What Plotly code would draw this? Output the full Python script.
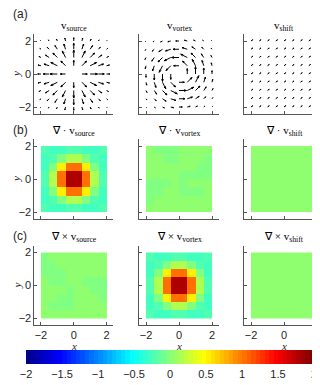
import plotly.graph_objects as go

# ---------------- data ----------------
GRID = [-2.0, -1.5, -1.0, -0.5, 0.0, 0.5, 1.0, 1.5, 2.0]          # quiver grid (x and y)
CELLS = [-1.75, -1.25, -0.75, -0.25, 0.25, 0.75, 1.25, 1.75]      # heatmap cell centres

# rows: y = -2 ... 2 ; columns: x = -2 ... 2
U_SOURCE = [
    [-0.04, -0.07, -0.08, -0.06, 0.00, 0.06, 0.08, 0.07, 0.04],
    [-0.09, -0.16, -0.20, -0.14, 0.00, 0.14, 0.20, 0.16, 0.09],
    [-0.16, -0.30, -0.37, -0.27, 0.00, 0.27, 0.37, 0.30, 0.16],
    [-0.24, -0.43, -0.54, -0.39, 0.00, 0.39, 0.54, 0.43, 0.24],
    [-0.27, -0.49, -0.61, -0.44, 0.00, 0.44, 0.61, 0.49, 0.27],
    [-0.24, -0.43, -0.54, -0.39, 0.00, 0.39, 0.54, 0.43, 0.24],
    [-0.16, -0.30, -0.37, -0.27, 0.00, 0.27, 0.37, 0.30, 0.16],
    [-0.09, -0.16, -0.20, -0.14, 0.00, 0.14, 0.20, 0.16, 0.09],
    [-0.04, -0.07, -0.08, -0.06, 0.00, 0.06, 0.08, 0.07, 0.04],
]
V_SOURCE = [
    [-0.04, -0.09, -0.16, -0.24, -0.27, -0.24, -0.16, -0.09, -0.04],
    [-0.07, -0.16, -0.30, -0.43, -0.49, -0.43, -0.30, -0.16, -0.07],
    [-0.08, -0.20, -0.37, -0.54, -0.61, -0.54, -0.37, -0.20, -0.08],
    [-0.06, -0.14, -0.27, -0.39, -0.44, -0.39, -0.27, -0.14, -0.06],
    [0.00, 0.00, 0.00, 0.00, 0.00, 0.00, 0.00, 0.00, 0.00],
    [0.06, 0.14, 0.27, 0.39, 0.44, 0.39, 0.27, 0.14, 0.06],
    [0.08, 0.20, 0.37, 0.54, 0.61, 0.54, 0.37, 0.20, 0.08],
    [0.07, 0.16, 0.30, 0.43, 0.49, 0.43, 0.30, 0.16, 0.07],
    [0.04, 0.09, 0.16, 0.24, 0.27, 0.24, 0.16, 0.09, 0.04],
]
U_VORTEX = [
    [0.04, 0.09, 0.16, 0.24, 0.27, 0.24, 0.16, 0.09, 0.04],
    [0.07, 0.16, 0.30, 0.43, 0.49, 0.43, 0.30, 0.16, 0.07],
    [0.08, 0.20, 0.37, 0.54, 0.61, 0.54, 0.37, 0.20, 0.08],
    [0.06, 0.14, 0.27, 0.39, 0.44, 0.39, 0.27, 0.14, 0.06],
    [0.00, 0.00, 0.00, 0.00, 0.00, 0.00, 0.00, 0.00, 0.00],
    [-0.06, -0.14, -0.27, -0.39, -0.44, -0.39, -0.27, -0.14, -0.06],
    [-0.08, -0.20, -0.37, -0.54, -0.61, -0.54, -0.37, -0.20, -0.08],
    [-0.07, -0.16, -0.30, -0.43, -0.49, -0.43, -0.30, -0.16, -0.07],
    [-0.04, -0.09, -0.16, -0.24, -0.27, -0.24, -0.16, -0.09, -0.04],
]
V_VORTEX = [
    [-0.04, -0.07, -0.08, -0.06, 0.00, 0.06, 0.08, 0.07, 0.04],
    [-0.09, -0.16, -0.20, -0.14, 0.00, 0.14, 0.20, 0.16, 0.09],
    [-0.16, -0.30, -0.37, -0.27, 0.00, 0.27, 0.37, 0.30, 0.16],
    [-0.24, -0.43, -0.54, -0.39, 0.00, 0.39, 0.54, 0.43, 0.24],
    [-0.27, -0.49, -0.61, -0.44, 0.00, 0.44, 0.61, 0.49, 0.27],
    [-0.24, -0.43, -0.54, -0.39, 0.00, 0.39, 0.54, 0.43, 0.24],
    [-0.16, -0.30, -0.37, -0.27, 0.00, 0.27, 0.37, 0.30, 0.16],
    [-0.09, -0.16, -0.20, -0.14, 0.00, 0.14, 0.20, 0.16, 0.09],
    [-0.04, -0.07, -0.08, -0.06, 0.00, 0.06, 0.08, 0.07, 0.04],
]
U_SHIFT = [[0.14] * 9 for _ in range(9)]
V_SHIFT = [[0.10] * 9 for _ in range(9)]

# rows: y = -1.75 ... 1.75 ; columns: x = -1.75 ... 1.75
DIV_SOURCE = [
    [-0.19, -0.26, -0.27, -0.24, -0.24, -0.27, -0.26, -0.19],
    [-0.26, -0.24, -0.04, 0.17, 0.17, -0.04, -0.24, -0.26],
    [-0.27, -0.04, 0.50, 1.01, 1.01, 0.50, -0.04, -0.27],
    [-0.24, 0.17, 1.01, 1.76, 1.76, 1.01, 0.17, -0.24],
    [-0.24, 0.17, 1.01, 1.76, 1.76, 1.01, 0.17, -0.24],
    [-0.27, -0.04, 0.50, 1.01, 1.01, 0.50, -0.04, -0.27],
    [-0.26, -0.24, -0.04, 0.17, 0.17, -0.04, -0.24, -0.26],
    [-0.19, -0.26, -0.27, -0.24, -0.24, -0.27, -0.26, -0.19],
]
CURL_VORTEX = [
    [-0.19, -0.26, -0.27, -0.24, -0.24, -0.27, -0.26, -0.19],
    [-0.26, -0.24, -0.04, 0.17, 0.17, -0.04, -0.24, -0.26],
    [-0.27, -0.04, 0.50, 1.01, 1.01, 0.50, -0.04, -0.27],
    [-0.24, 0.17, 1.01, 1.76, 1.76, 1.01, 0.17, -0.24],
    [-0.24, 0.17, 1.01, 1.76, 1.76, 1.01, 0.17, -0.24],
    [-0.27, -0.04, 0.50, 1.01, 1.01, 0.50, -0.04, -0.27],
    [-0.26, -0.24, -0.04, 0.17, 0.17, -0.04, -0.24, -0.26],
    [-0.19, -0.26, -0.27, -0.24, -0.24, -0.27, -0.26, -0.19],
]
# numerical-noise level values (top row of the picture is the last row here)
DIV_VORTEX = [
    [0.02, 0.02, 0.02, 0.02, 0.02, 0.02, 0.02, 0.02],
    [-0.02, 0.02, 0.02, 0.02, 0.02, 0.02, 0.02, 0.02],
    [-0.02, -0.02, 0.02, 0.02, -0.02, -0.02, -0.02, 0.02],
    [-0.02, -0.02, -0.02, 0.02, -0.02, 0.02, 0.02, 0.02],
    [0.02, 0.02, 0.02, 0.02, -0.02, -0.02, -0.02, -0.02],
    [0.02, 0.02, 0.02, 0.02, 0.02, 0.02, -0.02, -0.02],
    [0.02, 0.02, -0.02, -0.02, 0.02, 0.02, 0.02, -0.02],
    [0.02, -0.02, -0.02, -0.02, 0.02, 0.02, 0.02, 0.02],
]
CURL_SOURCE = [
    [0.02, 0.02, 0.02, 0.02, 0.02, 0.02, 0.02, 0.02],
    [0.02, -0.02, -0.02, -0.02, 0.02, 0.02, 0.02, 0.02],
    [0.02, 0.02, -0.02, -0.02, 0.02, 0.02, 0.02, -0.02],
    [0.02, 0.02, 0.02, -0.02, 0.02, 0.02, -0.02, -0.02],
    [0.02, -0.02, -0.02, 0.02, 0.02, -0.02, -0.02, -0.02],
    [-0.02, -0.02, -0.02, 0.02, 0.02, 0.02, 0.02, 0.02],
    [-0.02, -0.02, 0.02, 0.02, 0.02, 0.02, 0.02, 0.02],
    [-0.02, 0.02, 0.02, 0.02, 0.02, 0.02, 0.02, 0.02],
]
DIV_SHIFT = [[0.02] * 8 for _ in range(8)]
CURL_SHIFT = [[0.02] * 8 for _ in range(8)]

COL_NAMES = ["source", "vortex", "shift"]
ROW_PREFIX = ["", "\u2207 \u00b7 ", "\u2207 \u00d7 "]
PANEL_LABELS = ["(a)", "(b)", "(c)"]
CB_TICKS = [-1.9999, -1.5, -1, -0.5, 0, 0.5, 1, 1.5, 1.9999]
CB_TICKTEXT = ["\u22122", "\u22121.5", "\u22121", "\u22120.5", "0", "0.5", "1", "1.5", "2"]


# ---------------- styling helpers ----------------
def matlab_jet(m=64):
    n = m // 4
    u = [(i + 1) / n for i in range(n)] + [1.0] * (n - 1) + [(n - i) / n for i in range(n)]
    cols = [[0.0, 0.0, 0.0] for _ in range(m)]
    for i, val in enumerate(u):
        g = n // 2 + i
        r = g + n
        b = g - n
        if 0 <= r < m:
            cols[r][0] = val
        if 0 <= g < m:
            cols[g][1] = val
        if 0 <= b < m:
            cols[b][2] = val
    scale = []
    for k, c in enumerate(cols):
        s = "rgb(%d,%d,%d)" % tuple(round(255 * v) for v in c)
        scale.append([k / m, s])
        scale.append([(k + 1) / m, s])
    return scale


JET = matlab_jet()
W, H = 320, 385
COLS_PX = [(26.4, 105.1), (131.4, 210.6), (236.4, 315.6)]
ROWS_PX = [(26.4, 105.6), (131.4, 210.6), (237.9, 317.1)]
AX_COLOR = "#555555"
TICK_FONT = dict(family="Liberation Sans, Arial, sans-serif", size=11, color="#262626")
SERIF = "Liberation Serif, Times New Roman, serif"

fig = go.Figure()


def quiver_xy(U, V, scale):
    xs, ys = [], []
    alpha, beta = 0.33, 0.33
    for j, yv in enumerate(GRID):
        for i, xv in enumerate(GRID):
            u = U[j][i] * scale
            v = V[j][i] * scale
            xe, ye = xv + u, yv + v
            xs += [xv, xe, None]
            ys += [yv, ye, None]
            h1x = xe - alpha * (u + beta * v)
            h1y = ye - alpha * (v - beta * u)
            h2x = xe - alpha * (u - beta * v)
            h2y = ye - alpha * (v + beta * u)
            xs += [h1x, xe, h2x, None]
            ys += [h1y, ye, h2y, None]
    return xs, ys


# common arrow scale (MATLAB-like autoscale from the source field)
mags = [(U_SOURCE[j][i] ** 2 + V_SOURCE[j][i] ** 2) ** 0.5 for j in range(9) for i in range(9)]
SCALE = 0.9 * 0.5 / max(mags)

quivers = [(U_SOURCE, V_SOURCE), (U_VORTEX, V_VORTEX), (U_SHIFT, V_SHIFT)]
heat_rows = [[DIV_SOURCE, DIV_VORTEX, DIV_SHIFT], [CURL_SOURCE, CURL_VORTEX, CURL_SHIFT]]

layout = {}
ax_index = 0
for r in range(3):
    for c in range(3):
        ax_index += 1
        sfx = "" if ax_index == 1 else str(ax_index)
        xref, yref = "x" + sfx, "y" + sfx
        x0, x1 = COLS_PX[c]
        y0, y1 = ROWS_PX[r]
        layout["xaxis" + sfx] = dict(
            domain=[x0 / W, x1 / W], range=[-2.4, 2.4], anchor=yref,
            tickvals=[-2, 0, 2], showticklabels=(r == 2), ticks="inside", ticklen=3,
            tickcolor=AX_COLOR, showline=True, linecolor=AX_COLOR, linewidth=1,
            showgrid=False, zeroline=False, tickfont=TICK_FONT, fixedrange=True,
            automargin=False,
        )
        layout["yaxis" + sfx] = dict(
            domain=[1 - y1 / H, 1 - y0 / H], range=[-2.4, 2.4], anchor=xref,
            tickvals=[-2, 0, 2], showticklabels=(c == 0), ticks="inside", ticklen=3,
            tickcolor=AX_COLOR, showline=True, linecolor=AX_COLOR, linewidth=1,
            showgrid=False, zeroline=False, tickfont=TICK_FONT, fixedrange=True,
            automargin=False,
        )
        if r == 0:
            U, V = quivers[c]
            xs, ys = quiver_xy(U, V, SCALE)
            fig.add_trace(go.Scatter(x=xs, y=ys, mode="lines", xaxis=xref, yaxis=yref,
                                     line=dict(color="black", width=1.0), hoverinfo="skip",
                                     showlegend=False))
        else:
            z = heat_rows[r - 1][c]
            show = (r == 2 and c == 2)
            fig.add_trace(go.Heatmap(
                z=z, x=CELLS, y=CELLS, xaxis=xref, yaxis=yref, colorscale=JET,
                zmin=-2, zmax=2, showscale=show,
                colorbar=dict(
                    orientation="h", x=162 / W, xanchor="center",
                    len=288 / W, lenmode="fraction", y=1 - 342 / H, yanchor="top",
                    thickness=14, thicknessmode="pixels", outlinewidth=0,
                    tickmode="array", tickvals=CB_TICKS, ticktext=CB_TICKTEXT, ticks="",
                    ticklabeloverflow="allow", tickfont=TICK_FONT, xpad=0, ypad=0,
                ),
            ))

annotations = []
title_y = [18, 123, 229]
label_y = [6, 122, 228]
for r in range(3):
    annotations.append(dict(text=PANEL_LABELS[r], x=3 / W, y=1 - label_y[r] / H, xref="paper",
                            yref="paper", xanchor="left", yanchor="middle", showarrow=False,
                            font=dict(family="Liberation Sans, Arial, sans-serif", size=12,
                                      color="#262626")))
    yc = (ROWS_PX[r][0] + ROWS_PX[r][1]) / 2
    annotations.append(dict(text="<i>y</i>", x=8 / W, y=1 - yc / H, xref="paper", yref="paper",
                            xanchor="center", yanchor="middle", showarrow=False, textangle=-90,
                            font=dict(family=SERIF, size=11, color="#262626")))
    for c in range(3):
        xc = (COLS_PX[c][0] + COLS_PX[c][1]) / 2
        annotations.append(dict(text=ROW_PREFIX[r] + "v<sub>" + COL_NAMES[c] + "</sub>",
                                x=xc / W, y=1 - title_y[r] / H, xref="paper", yref="paper",
                                xanchor="center", yanchor="middle", showarrow=False,
                                font=dict(family=SERIF, size=11, color="black")))
for c in range(3):
    xc = (COLS_PX[c][0] + COLS_PX[c][1]) / 2
    annotations.append(dict(text="<i>x</i>", x=xc / W, y=1 - 338 / H, xref="paper", yref="paper",
                            xanchor="center", yanchor="middle", showarrow=False,
                            font=dict(family=SERIF, size=11, color="#262626")))

fig.update_layout(
    width=W, height=H, margin=dict(l=0, r=0, t=0, b=0, autoexpand=False),
    paper_bgcolor="white", plot_bgcolor="white",
    annotations=annotations, showlegend=False, **layout,
)
fig.write_html("out.html", config={"displayModeBar": False})
